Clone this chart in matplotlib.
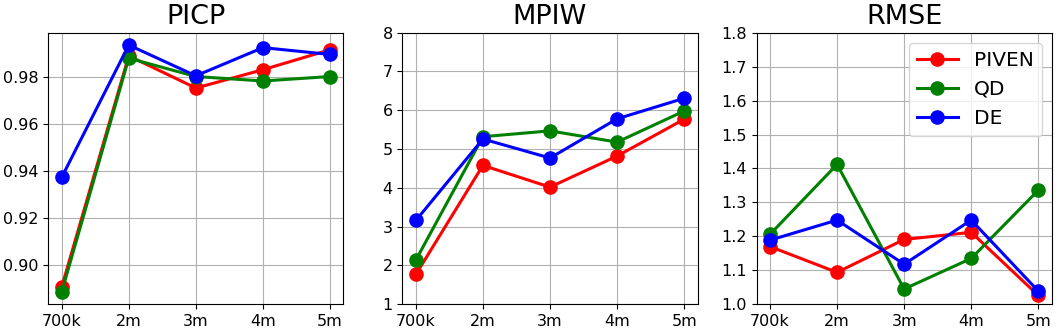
import numpy as np
import matplotlib
matplotlib.use('Agg')
import matplotlib.pyplot as plt

sizes = ['700k', '2m', '3m', '4m', '5m']
methods = ['PIVEN', 'QD', 'DE']
colors = ['red', 'green', 'blue']

picp_piven = [0.8908, 0.9892, 0.9755, 0.9833, 0.9918]
picp_qd = [0.8887, 0.9882, 0.9804, 0.9785, 0.9804]
picp_de = [0.9375, 0.9938, 0.9807, 0.9927, 0.9898]

mpiw_piven = [1.77, 4.58, 4.02, 4.82, 5.77]
mpiw_qd = [2.14, 5.32, 5.47, 5.18, 5.98]
mpiw_de = [3.16, 5.26, 4.77, 5.78, 6.31]

rmse_piven = [1.170, 1.094, 1.191, 1.212, 1.026]
rmse_qd = [1.206, 1.412, 1.045, 1.135, 1.336]
rmse_de = [1.189, 1.248, 1.118, 1.248, 1.039]

panels = [
    ('PICP', [picp_piven, picp_qd, picp_de], None),
    ('MPIW', [mpiw_piven, mpiw_qd, mpiw_de], (1, 8)),
    ('RMSE', [rmse_piven, rmse_qd, rmse_de], (1.0, 1.8)),
]

f, axes = plt.subplots(1, 3, figsize=(10.59, 3.33), dpi=100)
f.subplots_adjust(left=0.0456, right=0.9931, top=0.9018, bottom=0.0862, wspace=0.2)

x = np.arange(len(sizes))
for ax, (title, series, ylim) in zip(axes, panels):
    for vals, name, c in zip(series, methods, colors):
        ax.plot(x, vals, color=c, marker='o', markersize=9.5, linewidth=2.2, label=name)
    ax.set_xticks(x)
    ax.set_xticklabels(sizes)
    ax.tick_params(labelsize=11.5)
    ax.set_title(title, fontsize=19.5)
    ax.grid(True, color='#b0b0b0', linewidth=0.8)
    if ylim is not None:
        ax.set_ylim(*ylim)

axes[2].legend(loc='upper right', fontsize=14.5)

f.savefig('out.png', dpi=100)
